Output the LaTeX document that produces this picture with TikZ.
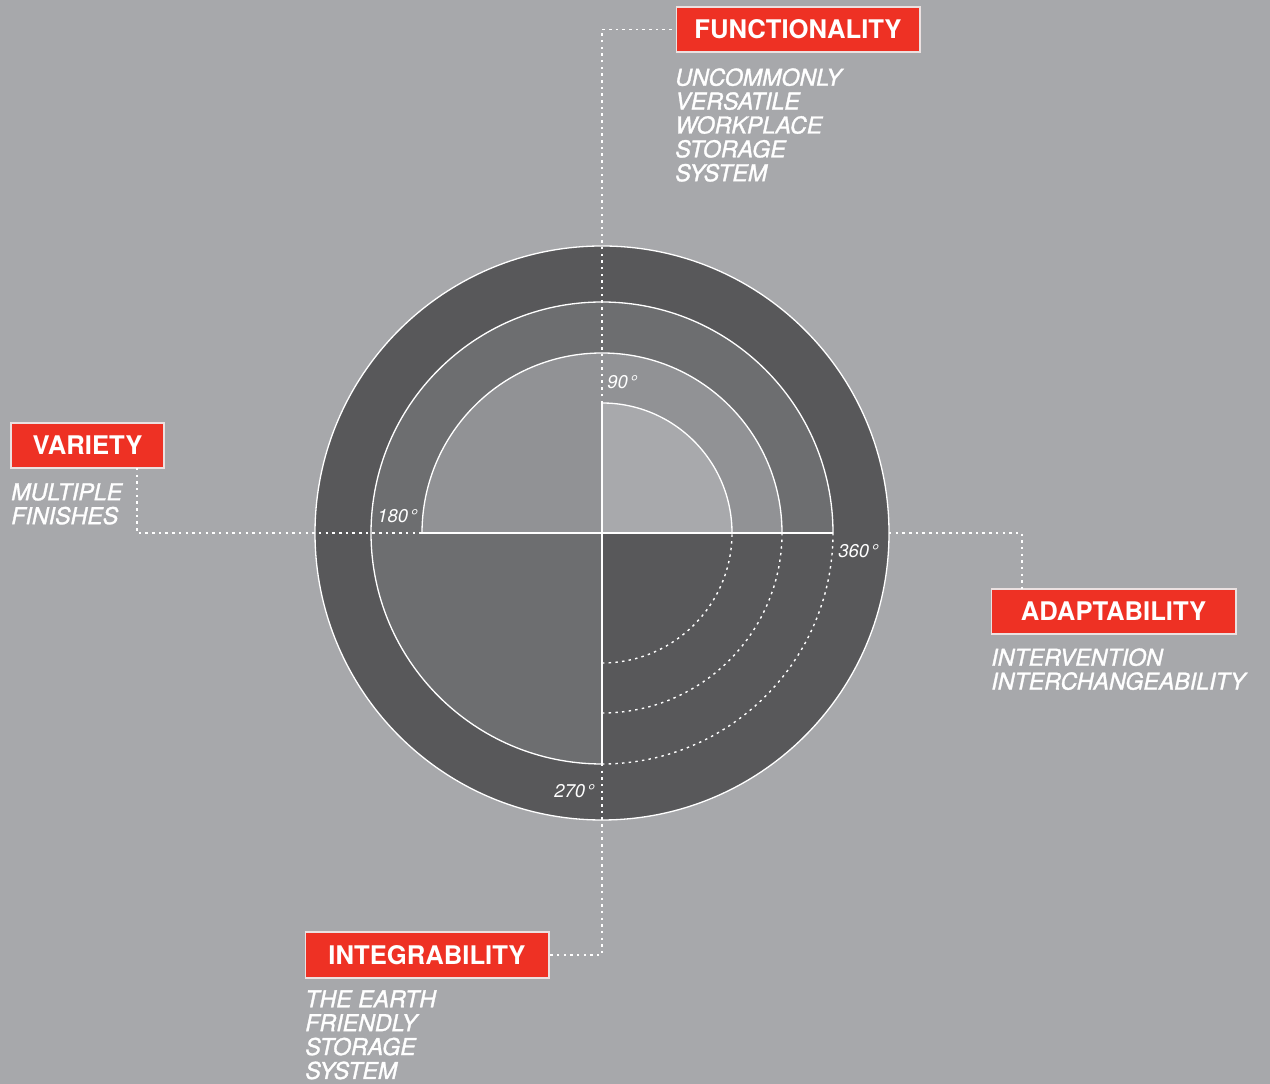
\documentclass[tikz,border=0pt]{standalone}
\usepackage{fontspec}
\usetikzlibrary{calc}
\setmainfont{TeX Gyre Heros}
\newfontface\descface{texgyreheros-italic.otf}[FakeBold=1.3]
\definecolor{bg}{HTML}{A7A8AB}
\definecolor{ringdark}{HTML}{58585A}
\definecolor{ringmid}{HTML}{6D6E70}
\definecolor{ringlight}{HTML}{919295}
\definecolor{ringinner}{HTML}{A8A9AC}
\definecolor{boxred}{HTML}{EE3124}
\definecolor{boxedge}{HTML}{EBE1E1}
\begin{document}
\begin{tikzpicture}[x=0.02cm,y=0.02cm,
  solidline/.style={white,line width=0.75pt},
  dotline/.style={white,line width=0.8pt,dash pattern=on 1.4pt off 2.4pt},
  titlebox/.style={fill=boxred,draw=boxedge,line width=0.6pt,text=white,
    font=\fontsize{14.6pt}{16pt}\selectfont\bfseries,inner sep=0pt,
    minimum height=0.9cm,text height=10.5pt,text depth=0pt},
  desctext/.style={anchor=north west,inner sep=0pt,align=left,text=white,
    font=\fontsize{13.2pt}{13.6pt}\descface},
  deglabel/.style={anchor=base west,inner sep=0pt,text=white,
    font=\fontsize{10.5pt}{12pt}\selectfont\itshape}]
\useasboundingbox (0,0) rectangle (1270,1084);
\fill[bg] (0,0) rectangle (1270,1084);
\coordinate (C) at (602,551);
% rings
\filldraw[fill=ringdark,draw=white,line width=0.75pt] (C) circle (287);
\fill[ringmid] (C) -- ++(231,0) arc[start angle=0,end angle=270,radius=231] -- cycle;
\draw[solidline] ($(C)+(231,0)$) arc[start angle=0,end angle=270,radius=231];
\fill[ringlight] (C) -- ++(180,0) arc[start angle=0,end angle=180,radius=180] -- cycle;
\draw[solidline] ($(C)+(180,0)$) arc[start angle=0,end angle=180,radius=180];
\fill[ringinner] (C) -- ++(130,0) arc[start angle=0,end angle=90,radius=130] -- cycle;
\draw[solidline] ($(C)+(130,0)$) arc[start angle=0,end angle=90,radius=130];
% dotted arcs lower right
\foreach \r in {130,180,231}
  \draw[dotline] ($(C)+(0,-\r)$) arc[start angle=270,end angle=360,radius=\r];
% key points
\coordinate (c90) at ($(C)+(0,130)$);
\coordinate (c180) at ($(C)+(-180,0)$);
\coordinate (c0in) at ($(C)+(231,0)$);
\coordinate (c0out) at ($(C)+(287,0)$);
\coordinate (c270) at ($(C)+(0,-231)$);
% solid axes
\draw[solidline] (c180) -- (c0in);
\draw[solidline] (c90) -- (c270);
% boxes
\node[titlebox,minimum width=4.88cm] (fun) at (798,1054.5) {FUNCTIONALITY};
\node[titlebox,minimum width=3.06cm] (var) at (87.5,638.5) {VARIETY};
\node[titlebox,minimum width=4.9cm] (ada) at (1113.5,472.5) {ADAPTABILITY};
\node[titlebox,minimum width=4.88cm,minimum height=0.92cm] (int) at (427,129) {INTEGRABILITY};
% descriptions
\node[desctext] (fdesc) at (675,1016) {UNCOMMONLY\\VERSATILE\\WORKPLACE\\STORAGE\\SYSTEM};
\node[desctext] (vdesc) at (11,601) {MULTIPLE\\FINISHES};
\node[desctext] (adesc) at (991,436) {INTERVENTION\\INTERCHANGEABILITY};
\node[desctext] (idesc) at (305,94) {THE EARTH\\FRIENDLY\\STORAGE\\SYSTEM};
% degree labels
\node[deglabel] (d90) at (607,695) {90\kern1pt°};
\node[deglabel] (d180) at (377,561) {180\kern1pt°};
\node[deglabel] (d360) at (838,526) {360\kern1pt°};
\node[deglabel] (d270) at (554,286) {270\kern1pt°};
% connectors
\coordinate (vtop) at (137,616);
\coordinate (atop) at (1022,495);
\draw[dotline] (c90) |- (fun.west);
\draw[dotline] (vtop) |- (c180);
\draw[dotline] (c0out) -| (atop);
\draw[dotline] (c270) |- (int.east);
\end{tikzpicture}
\end{document}
